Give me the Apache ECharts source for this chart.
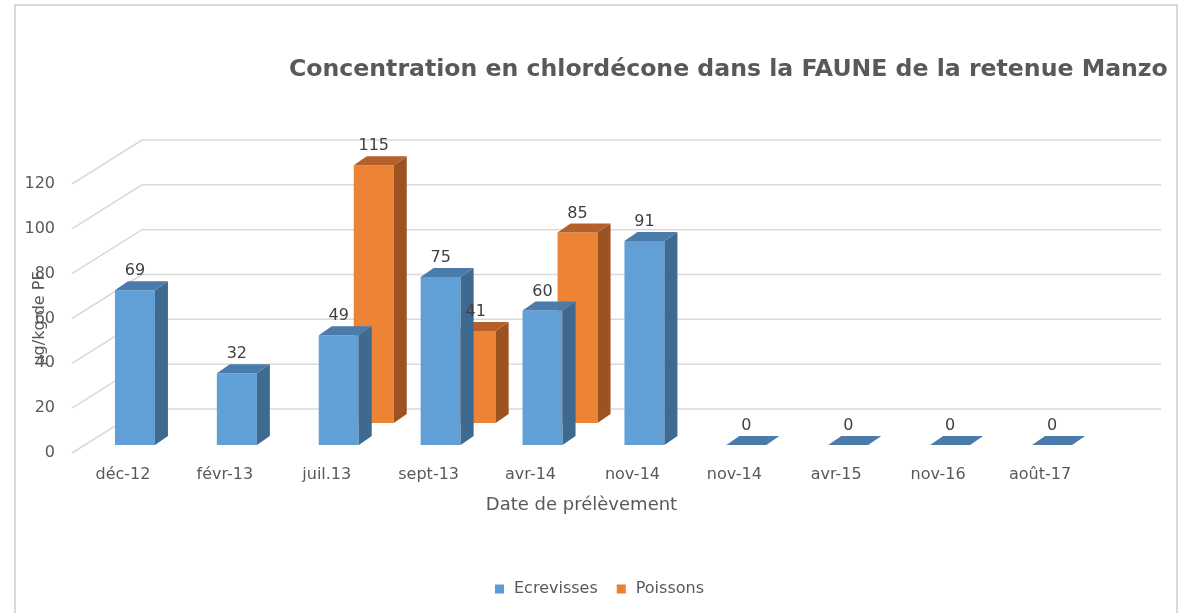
<!DOCTYPE html>
<html>
<head>
    <meta charset="utf-8">
    <title>Chlordécone - FAUNE Manzo</title>
    <script src="https://cdn.jsdelivr.net/npm/echarts@6/dist/echarts.min.js"></script>
    <style>
        html, body { margin: 0; padding: 0; background: #fff; }
        #chart { width: 1179px; height: 613px; }
    </style>
</head>
<body>
<div id="chart"></div>
<script>
    // données
    var dates = ['déc-12', 'févr-13', 'juil.13', 'sept-13', 'avr-14', 'nov-14', 'nov-14', 'avr-15', 'nov-16', 'août-17'];
    var ecrevisses = [69, 32, 49, 75, 60, 91, 0, 0, 0, 0];
    var poissons = ['-', '-', 115, 41, 85, '-', '-', '-', '-', '-'];
    var yTicks = [0, 20, 40, 60, 80, 100, 120];

    var font = 'DejaVu Sans';
    var grey = '#595959';

    // barre "3D" : face avant, côté, dessus + étiquette
    function makeBox(dx, dy, front, side, top, zBase) {
        return function (params, api) {
            var v = api.value(1);
            if (isNaN(v)) return null;
            var base = api.coord([api.value(0), 0]);
            var head = api.coord([api.value(0), v]);
            var w = 40, ddx = 13, ddy = -9;
            var x0 = base[0] + dx - w / 2, x1 = x0 + w;
            var yb = base[1] + dy, yt = head[1] + dy;
            return {
                type: 'group',
                children: [
                    {type: 'rect', z2: zBase, shape: {x: x0, y: yt, width: w, height: yb - yt}, style: {fill: front}},
                    {type: 'polygon', z2: zBase, shape: {points: [[x1, yt], [x1 + ddx, yt + ddy], [x1 + ddx, yb + ddy], [x1, yb]]}, style: {fill: side}},
                    {type: 'polygon', z2: zBase, shape: {points: [[x0, yt], [x0 + ddx, yt + ddy], [x1 + ddx, yt + ddy], [x1, yt]]}, style: {fill: top}},
                    {type: 'text', z2: 50, style: {x: x0 + w / 2, y: yt - 19, text: String(v), fill: '#404040',
                        font: '16px "' + font + '"', align: 'center', verticalAlign: 'middle'}}
                ]
            };
        };
    }

    var myChart = echarts.init(document.getElementById('chart'));
    myChart.setOption({
        animation: false,
        backgroundColor: '#fff',
        title: {
            text: 'Concentration en chlordécone dans la FAUNE de la retenue Manzo',
            left: 284,
            top: 53,
            textStyle: {fontFamily: font, fontSize: 23.6, fontWeight: 'bold', color: grey}
        },
        legend: {
            data: ['Ecrevisses', 'Poissons'],
            left: 490,
            top: 576,
            icon: 'rect',
            itemWidth: 9,
            itemHeight: 9,
            itemGap: 19,
            textStyle: {fontFamily: font, fontSize: 16, color: grey, padding: [0, 0, 0, 5]}
        },
        graphic: [{
            type: 'rect',
            shape: {x: 15, y: 5, width: 1162, height: 640},
            style: {fill: 'none', stroke: '#d9d9d9', lineWidth: 2},
            silent: true
        }],
        grid: {left: 72, right: 88, top: 184, bottom: 160, outerBoundsMode: 'none', containLabel: false},
        xAxis: {
            type: 'category',
            data: dates,
            name: 'Date de prélèvement',
            nameLocation: 'middle',
            nameGap: 43,
            nameMoveOverlap: false,
            nameTextStyle: {fontFamily: font, fontSize: 18, color: grey},
            axisLine: {show: false},
            axisTick: {show: false},
            axisLabel: {fontFamily: font, fontSize: 16, color: grey, margin: 14, interval: 0}
        },
        yAxis: {
            type: 'value',
            min: 0,
            max: 120,
            interval: 20,
            name: 'µg/kg de PF',
            nameLocation: 'middle',
            nameRotate: 90,
            nameGap: 24,
            nameMoveOverlap: false,
            nameTextStyle: {fontFamily: font, fontSize: 16, color: grey},
            splitLine: {show: false},
            axisLine: {show: false},
            axisTick: {show: false},
            axisLabel: {fontFamily: font, fontSize: 16, color: grey, margin: 17}
        },
        series: [
            {
                // quadrillage en perspective (paroi latérale + fond)
                type: 'custom',
                silent: true,
                z: 1,
                data: yTicks.map(function (t) { return [0, t]; }),
                renderItem: function (params, api) {
                    var cs = params.coordSys;
                    var y = api.coord([0, api.value(1)])[1];
                    return {
                        type: 'polyline',
                        shape: {points: [[cs.x, y], [cs.x + 70, y - 44], [cs.x + cs.width + 70, y - 44]]},
                        style: {stroke: '#d9d9d9', lineWidth: 1.5, fill: 'none'}
                    };
                }
            },
            {
                name: 'Ecrevisses',
                type: 'custom',
                z: 2,
                itemStyle: {color: '#5b9bd5'},
                data: ecrevisses.map(function (v, i) { return [i, v]; }),
                renderItem: makeBox(12, -8, '#619fd7', '#3f6a8f', '#4a7bab', 10)
            },
            {
                name: 'Poissons',
                type: 'custom',
                z: 2,
                itemStyle: {color: '#ed7d31'},
                data: poissons.map(function (v, i) { return [i, v]; }),
                renderItem: makeBox(47, -30, '#ed8335', '#9c5320', '#b5602a', 0)
            }
        ]
    });
</script>
</body>
</html>
